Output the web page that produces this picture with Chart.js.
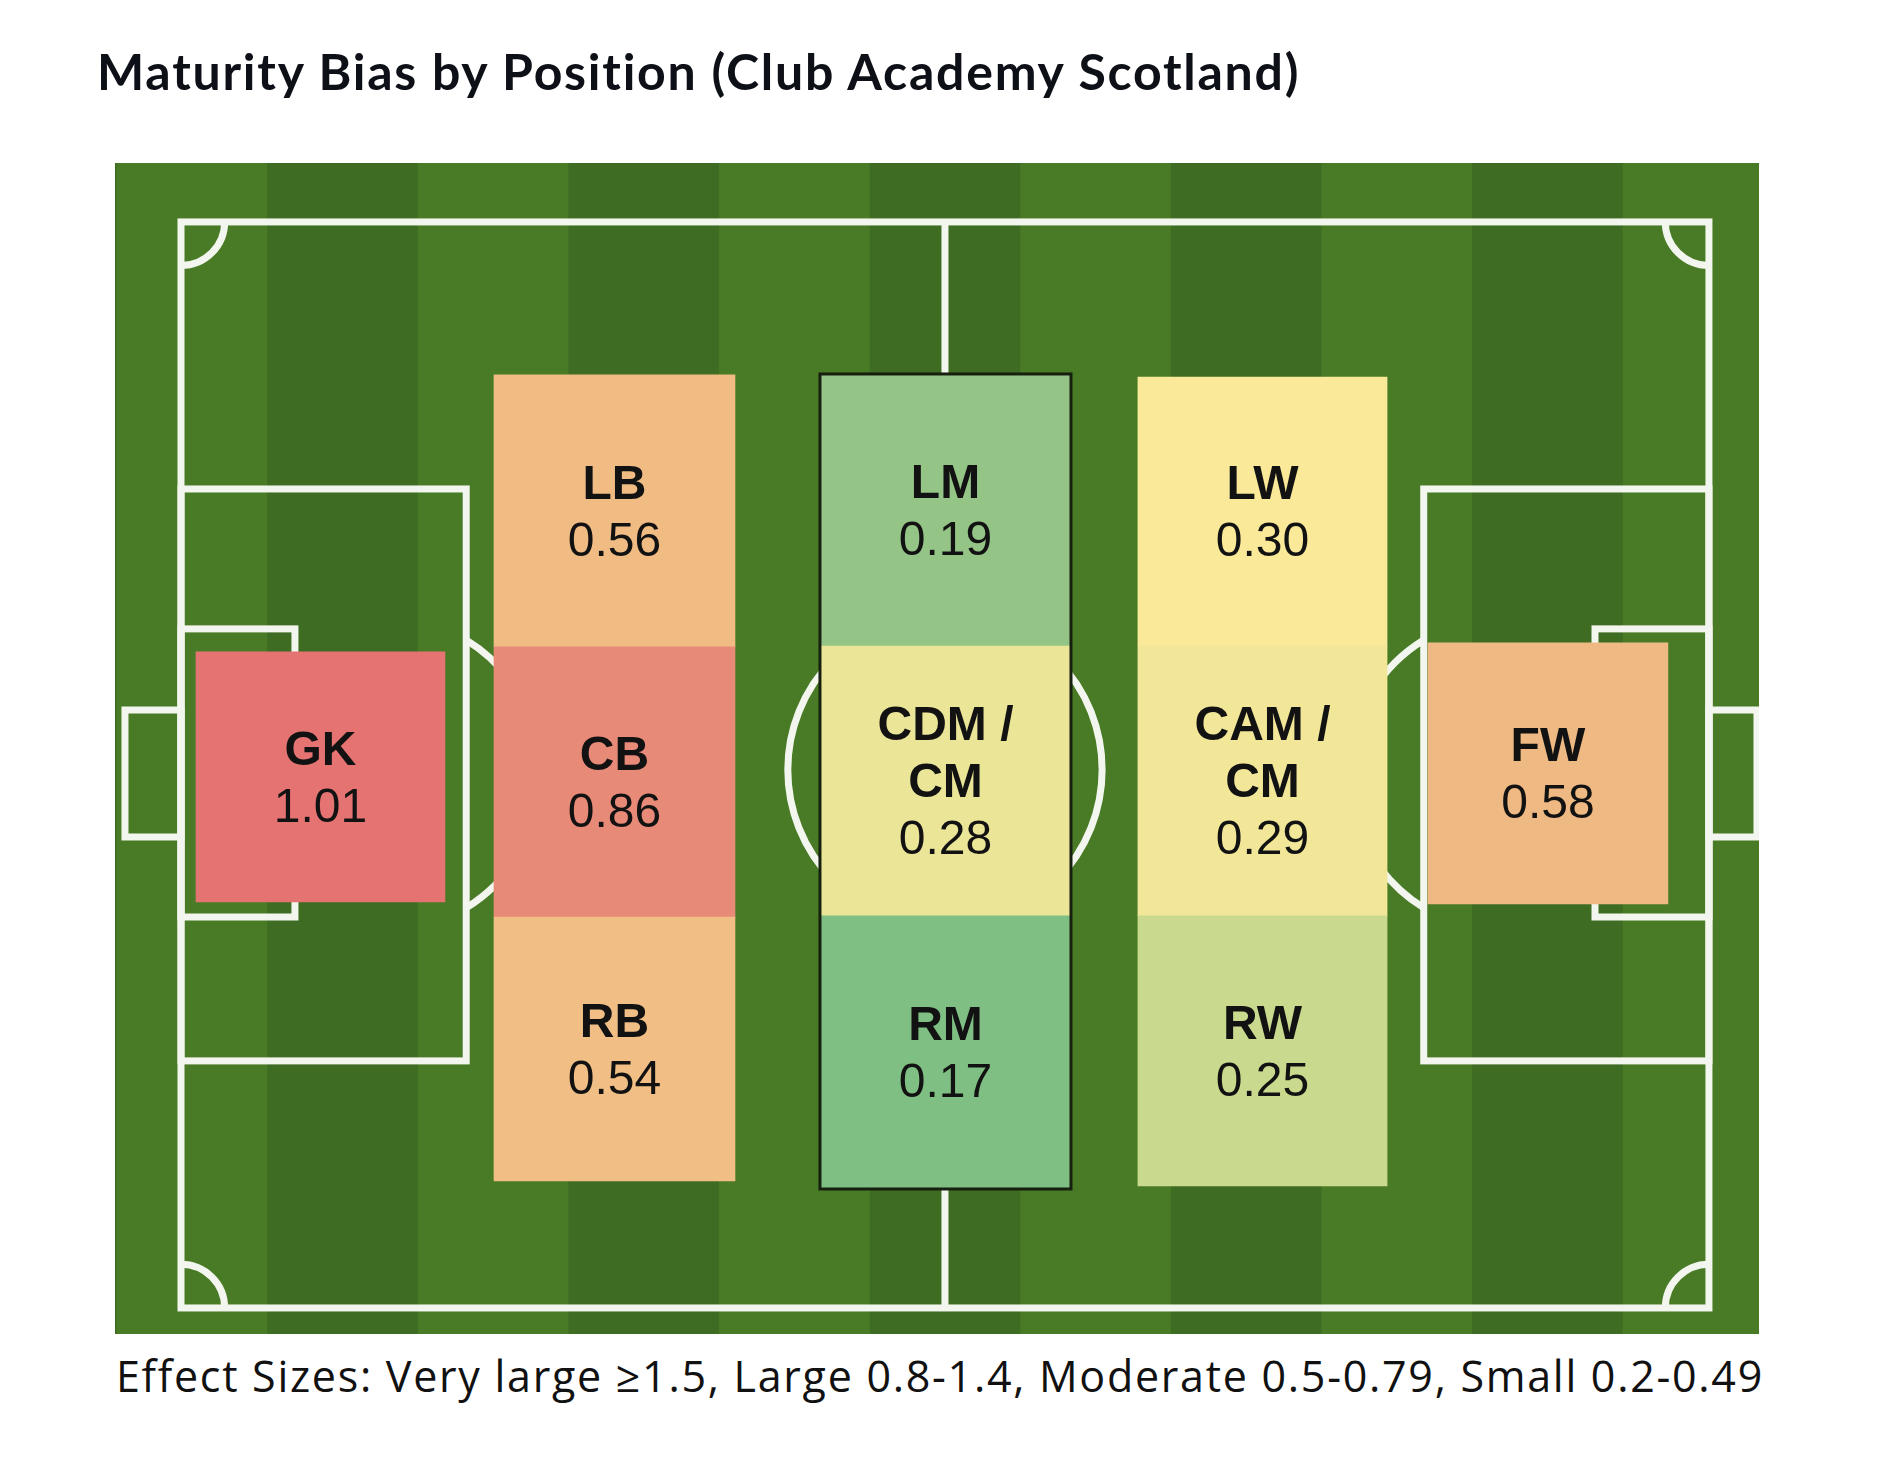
<!DOCTYPE html>
<html>
<head>
<meta charset="utf-8">
<title>Maturity Bias by Position</title>
<script src="https://cdn.jsdelivr.net/npm/chart.js@4.4.1/dist/chart.umd.min.js"></script>
<style>
  html, body { margin: 0; padding: 0; background: #fff; }
  body { width: 1884px; height: 1467px; position: relative; overflow: hidden; }
  #title {
    position: absolute; left: 97px; top: 46px;
    font: 700 50px Lato, sans-serif; line-height: 50px;
    color: #0d1117; white-space: nowrap;
  }
  #pitchBox { position: absolute; left: 115px; top: 163px; width: 1644px; height: 1171px; }
  #footer {
    position: absolute; left: 116px; top: 1354px;
    font: 400 43px "Open Sans", sans-serif; line-height: 43px;
    color: #111; white-space: nowrap;
  }
</style>
</head>
<body>
<div id="title">Maturity Bias by Position (Club Academy Scotland)</div>
<div id="pitchBox"><canvas id="pitchChart" width="1644" height="1171"></canvas></div>
<div id="footer">Effect Sizes: Very large ≥1.5, Large 0.8-1.4, Moderate 0.5-0.79, Small 0.2-0.49</div>

<script>
// effect sizes by position
const positions = ["GK", "LB", "CB", "RB", "LM", "CDM / CM", "RM", "LW", "CAM / CM", "RW", "FW"];
const labelLines = ["GK", "LB", "CB", "RB", "LM", "CDM /\nCM", "RM", "LW", "CAM /\nCM", "RW", "FW"];
const effectSizes = [1.01, 0.56, 0.86, 0.54, 0.19, 0.28, 0.17, 0.30, 0.29, 0.25, 0.58];

// pitch coordinates in metres: x along the pitch (0-105), y across it (0 = top touchline)
const X_MIN = -4.535, X_MAX = 108.44;
const Y_MIN = -3.69, Y_MAX = 69.63;
const CANVAS_W = 1644;
const PX_PER_M = CANVAS_W / (X_MAX - X_MIN);

// column extents (x) and where each position sits in them (y from-to)
const columns = {
  gk:  [1.03, 18.14],
  def: [21.51, 38.07],
  mid: [43.91, 61.16],
  att: [65.76, 82.88],
  fw:  [85.69, 102.18]
};
const slots = {
  "GK":       ["gk", 26.92, 42.58],
  "LB":       ["def", 9.58, 26.61],
  "CB":       ["def", 26.61, 43.52],
  "RB":       ["def", 43.52, 60.05],
  "LM":       ["mid", 9.52, 26.55],
  "CDM / CM": ["mid", 26.55, 43.45],
  "RM":       ["mid", 43.45, 60.55],
  "LW":       ["att", 9.71, 26.55],
  "CAM / CM": ["att", 26.55, 43.45],
  "RW":       ["att", 43.45, 60.36],
  "FW":       ["fw", 26.36, 42.70]
};

// green (small) -> yellow -> orange -> red (large)
const colourStops = [
  [0.17, [127, 191, 132]],
  [0.19, [149, 196, 135]],
  [0.25, [201, 218, 142]],
  [0.28, [235, 229, 151]],
  [0.30, [249, 233, 153]],
  [0.56, [240, 188, 132]],
  [0.86, [232, 138, 120]],
  [1.01, [229, 115, 114]]
];
function effectColour(v) {
  if (v <= colourStops[0][0]) return "rgb(" + colourStops[0][1].join(",") + ")";
  for (let i = 1; i < colourStops.length; i++) {
    const [v1, c1] = colourStops[i];
    if (v <= v1) {
      const [v0, c0] = colourStops[i - 1];
      const t = (v - v0) / (v1 - v0);
      const c = c0.map((a, k) => Math.round(a + (c1[k] - a) * t));
      return "rgb(" + c.join(",") + ")";
    }
  }
  return "rgb(" + colourStops[colourStops.length - 1][1].join(",") + ")";
}

const colKeys = ["gk", "def", "mid", "att", "fw"];
const datasets = colKeys.map(key => {
  const [x0, x1] = columns[key];
  const items = [];
  positions.forEach((p, i) => {
    const s = slots[p];
    if (s[0] !== key) return;
    items.push({ x: (x0 + x1) / 2, y: [s[1], s[2]], label: labelLines[i], value: effectSizes[i] });
  });
  return {
    label: key,
    data: items,
    grouped: false,
    barThickness: (x1 - x0) * PX_PER_M,
    backgroundColor: ctx => ctx.raw ? effectColour(ctx.raw.value) : "transparent",
    borderWidth: 0
  };
});

const LINE = "#f3f6ee";
const pitchPlugin = {
  id: "pitch",
  beforeDraw(chart) {
    const { ctx, chartArea: a, scales: { x } } = chart;
    ctx.save();
    ctx.fillStyle = "#497b26";
    ctx.fillRect(a.left, a.top, a.right - a.left, a.bottom - a.top);
    // mowing stripes, a dark one runs under the halfway line
    const w = 10.35;
    ctx.fillStyle = "#3e6c22";
    for (let s = 52.5 - w / 2 - 6 * w; s < X_MAX; s += 2 * w) {
      const l = Math.max(a.left, x.getPixelForValue(s));
      const r = Math.min(a.right, x.getPixelForValue(s + w));
      if (r > l) ctx.fillRect(l, a.top, r - l, a.bottom - a.top);
    }
    ctx.restore();
  },
  beforeDatasetsDraw(chart) {
    const { ctx, scales: { x, y } } = chart;
    const X = v => x.getPixelForValue(v);
    const Y = v => y.getPixelForValue(v);
    const rect = (x0, y0, x1, y1) => ctx.strokeRect(X(x0), Y(y0), X(x1) - X(x0), Y(y1) - Y(y0));
    ctx.save();
    ctx.strokeStyle = LINE;
    ctx.lineWidth = 7;
    ctx.lineJoin = "miter";

    rect(0, 0, 105, 68);
    ctx.beginPath();
    ctx.moveTo(X(52.5), Y(0));
    ctx.lineTo(X(52.5), Y(68));
    ctx.stroke();

    const R = 10.8 * PX_PER_M;
    ctx.beginPath();
    ctx.arc(X(52.5), Y(34.3), R, 0, Math.PI * 2);
    ctx.stroke();

    // penalty areas, goal areas, goals
    rect(0, 16.72, 19.6, 52.53);
    rect(105 - 19.6, 16.72, 105, 52.53);
    rect(0, 25.48, 7.83, 43.52);
    rect(105 - 7.83, 25.48, 105, 43.52);
    rect(-3.85, 30.56, 0, 38.51);
    rect(105, 30.56, 108.3, 38.51);

    // penalty arcs
    const spot = 13.95;
    const a = Math.acos((X(19.6) - X(spot)) / R);
    ctx.beginPath();
    ctx.arc(X(spot), Y(34.56), R, -a, a);
    ctx.stroke();
    ctx.beginPath();
    ctx.arc(X(105 - spot), Y(34.56), R, Math.PI - a, Math.PI + a);
    ctx.stroke();

    // corner arcs
    const cr = 3.0 * PX_PER_M;
    [[0, 0, 0], [105, 0, Math.PI / 2], [105, 68, Math.PI], [0, 68, Math.PI * 1.5]].forEach(([cx, cy, st]) => {
      ctx.beginPath();
      ctx.arc(X(cx), Y(cy), cr, st, st + Math.PI / 2);
      ctx.stroke();
    });
    ctx.restore();
  },
  afterDatasetsDraw(chart) {
    const { ctx } = chart;
    ctx.save();

    // outline round the midfield column
    const midIdx = colKeys.indexOf("mid");
    const midEls = chart.getDatasetMeta(midIdx).data;
    let l = Infinity, r = -Infinity, t = Infinity, b = -Infinity;
    midEls.forEach(el => {
      const p = el.getProps(["x", "y", "base", "width"], true);
      l = Math.min(l, p.x - p.width / 2);
      r = Math.max(r, p.x + p.width / 2);
      t = Math.min(t, p.y, p.base);
      b = Math.max(b, p.y, p.base);
    });
    ctx.strokeStyle = "#17200f";
    ctx.lineWidth = 3;
    ctx.strokeRect(l, t, r - l, b - t);

    // labels
    ctx.fillStyle = "#121212";
    ctx.textAlign = "center";
    ctx.textBaseline = "middle";
    const gap = 57;
    chart.data.datasets.forEach((ds, di) => {
      chart.getDatasetMeta(di).data.forEach((el, i) => {
        const p = el.getProps(["x", "y", "base"], true);
        const item = ds.data[i];
        const lines = item.label.split("\n");
        const all = lines.concat([item.value.toFixed(2)]);
        const cy = (p.y + p.base) / 2 + 3;
        const y0 = cy - gap * (all.length - 1) / 2;
        all.forEach((txt, k) => {
          ctx.font = (k < lines.length ? "bold " : "") + "48px 'Liberation Sans', Arial, sans-serif";
          ctx.fillText(txt, p.x, y0 + k * gap);
        });
      });
    });
    ctx.restore();
  }
};

new Chart(document.getElementById("pitchChart").getContext("2d"), {
  type: "bar",
  data: { datasets: datasets },
  options: {
    responsive: false,
    animation: false,
    layout: { padding: 0 },
    plugins: { legend: { display: false }, tooltip: { enabled: false }, title: { display: false } },
    scales: {
      x: { type: "linear", min: X_MIN, max: X_MAX, offset: false, display: false },
      y: { type: "linear", min: Y_MIN, max: Y_MAX, reverse: true, display: false }
    }
  },
  plugins: [pitchPlugin]
});

// stretch the headline and footnote to the width they take in the source
function fitWidth(el, target) {
  el.style.letterSpacing = "0px";
  const w = el.getBoundingClientRect().width;
  const n = el.textContent.length;
  el.style.letterSpacing = ((target - w) / n) + "px";
}
function fitTexts() {
  fitWidth(document.getElementById("title"), 1204);
  fitWidth(document.getElementById("footer"), 1648);
}
fitTexts();
if (document.fonts && document.fonts.ready) document.fonts.ready.then(fitTexts);
</script>
</body>
</html>
